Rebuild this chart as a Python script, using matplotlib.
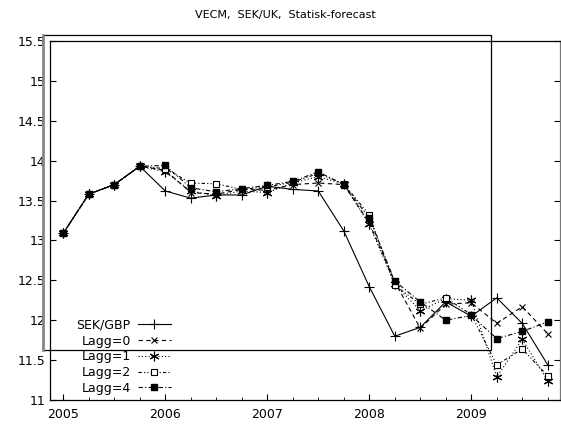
import matplotlib
matplotlib.use("Agg")
import matplotlib.pyplot as plt
from matplotlib.patches import Rectangle
from matplotlib.lines import Line2D
from matplotlib.ticker import MultipleLocator, FormatStrFormatter
import numpy as np

# Kvartalsdata 2005Q1 - 2009Q4
ar = 2005 + 0.25 * np.arange(20)

sek_gbp = [13.09, 13.58, 13.70, 13.93, 13.62, 13.53, 13.57, 13.57, 13.68, 13.64,
           13.62, 13.12, 12.42, 11.80, 11.91, 12.23, 12.05, 12.28, 11.96, 11.44]

# Prognoser (de fyra första punkterna är utfall)
lagg0 = sek_gbp[:4] + [13.88, 13.60, 13.58, 13.64, 13.63, 13.70, 13.72, 13.70,
                       13.22, 12.48, 11.90, 12.20, 12.22, 11.96, 12.17, 11.83]
lagg1 = sek_gbp[:4] + [13.86, 13.62, 13.56, 13.62, 13.60, 13.72, 13.80, 13.71,
                       13.20, 12.45, 12.12, 12.27, 12.25, 11.29, 11.76, 11.24]
lagg2 = sek_gbp[:4] + [13.90, 13.72, 13.71, 13.64, 13.67, 13.73, 13.84, 13.71,
                       13.32, 12.44, 12.20, 12.28, 12.07, 11.44, 11.64, 11.30]
lagg4 = sek_gbp[:4] + [13.94, 13.66, 13.61, 13.65, 13.69, 13.74, 13.86, 13.70,
                       13.28, 12.49, 12.23, 12.00, 12.06, 11.77, 11.86, 11.98]

W, H = 561, 428
fig = plt.figure(figsize=(W / 100, H / 100), dpi=100)
ax = fig.add_axes([50 / W, (H - 400) / H, 510 / W, 359 / H])

asterisk = (6, 2, 0)
lw = 0.8
ax.plot(ar, sek_gbp, color='black', lw=lw, ls='-', marker='+', ms=7, mew=0.8, label='SEK/GBP')
ax.plot(ar, lagg0, color='black', lw=lw, ls=(0, (4, 3)), marker='x', ms=5, mew=0.8, label='Lagg=0')
ax.plot(ar, lagg1, color='black', lw=lw, ls=(0, (1, 2)), marker=asterisk, ms=7, mew=0.8, label='Lagg=1')
ax.plot(ar, lagg2, color='black', lw=lw, ls=(0, (3, 2, 1, 2, 1, 2)), marker='s', ms=4.5,
        mfc='white', mec='black', mew=0.8, label='Lagg=2')
ax.plot(ar, lagg4, color='black', lw=lw, ls=(0, (4, 2, 1, 2)), marker='s', ms=5,
        mfc='black', mec='black', label='Lagg=4')

ax.set_xlim(2004.87, 2009.87)
ax.set_ylim(11, 15.5)
ax.set_xticks([2005, 2006, 2007, 2008, 2009])
ax.xaxis.set_minor_locator(MultipleLocator(0.25))
ax.yaxis.set_major_locator(MultipleLocator(0.5))
ax.yaxis.set_major_formatter(FormatStrFormatter('%g'))
ax.tick_params(axis='both', which='both', direction='in', labelsize=9, pad=3)
ax.tick_params(axis='y', which='major', right=True, length=4)
ax.tick_params(axis='x', which='major', length=4, pad=6)
ax.tick_params(axis='x', which='minor', length=2)
for side in ['left', 'bottom', 'top']:
    ax.spines[side].set_linewidth(0.9)
ax.spines['right'].set_color('#777777')
ax.spines['right'].set_linewidth(0.9)

ax.legend(loc='lower left', bbox_to_anchor=(0.035, -0.01), frameon=False, markerfirst=False,
          fontsize=9, handlelength=2.6, handletextpad=0.6, labelspacing=0.22,
          borderaxespad=0.3)

fig.text(285 / W, 1 - 15 / H, 'VECM,  SEK/UK,  Statisk-forecast', ha='center', va='center', fontsize=8)

# ram runt ett delområde
fig.patches.append(Rectangle((43 / W, (H - 350) / H), 448 / W, 315 / H, transform=fig.transFigure,
                             fill=False, edgecolor='black', lw=0.9))
fig.lines.append(Line2D([43 / W, 43 / W], [(H - 350) / H, (H - 35) / H], transform=fig.transFigure,
                        color='#888888', lw=2))

fig.savefig('out.png', dpi=100)
